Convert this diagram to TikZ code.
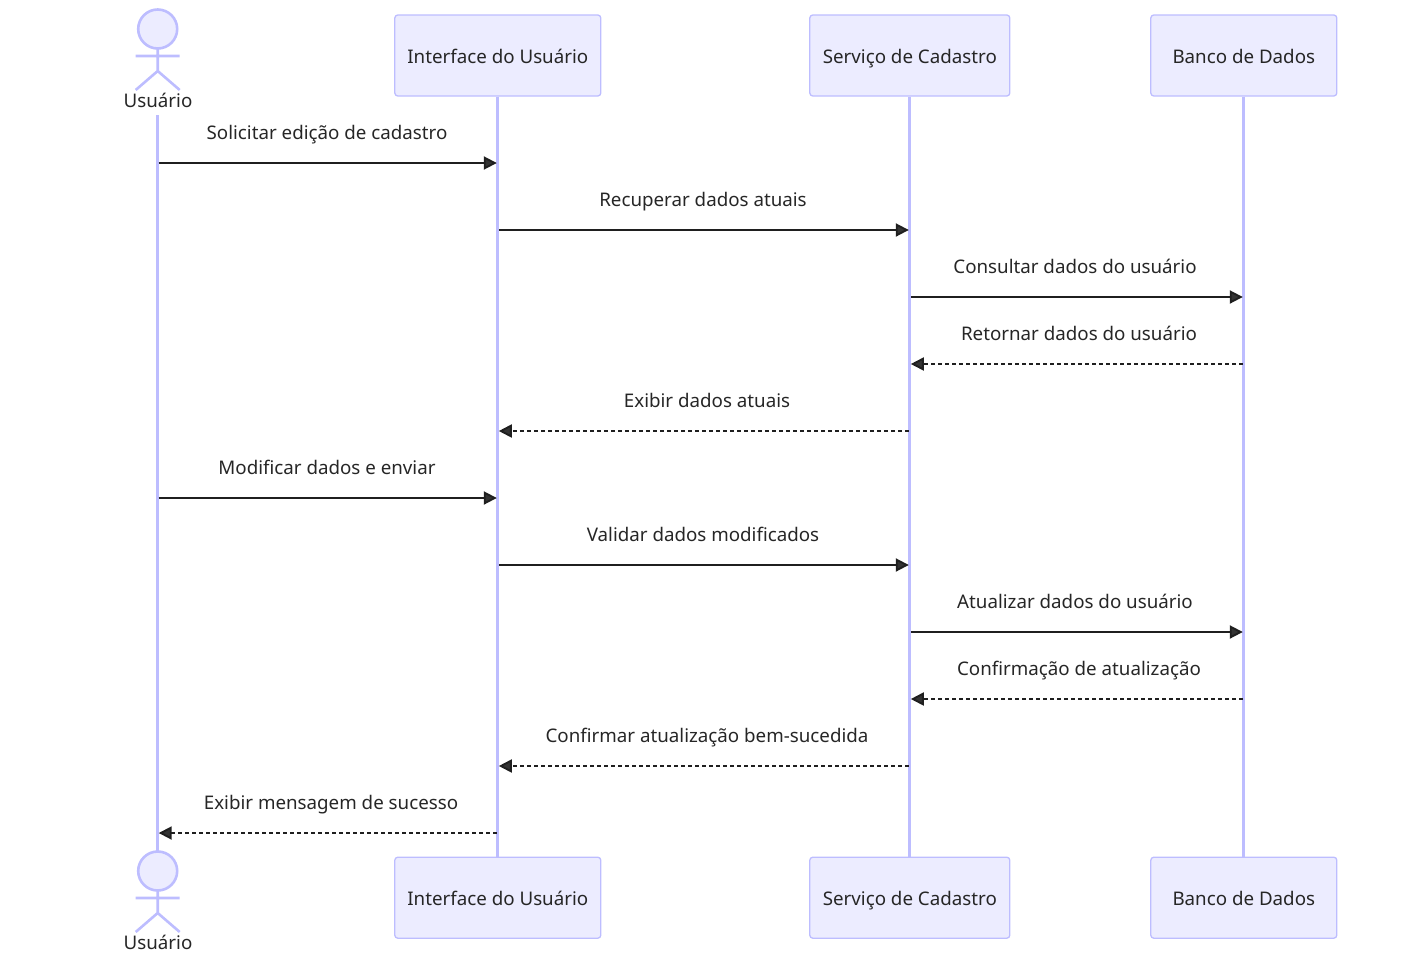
\documentclass[tikz,border=0pt]{standalone}
\usepackage{fontspec}
\setmainfont{Noto Sans}
\usetikzlibrary{arrows.meta}
\definecolor{actorline}{HTML}{BDBDFF}
\definecolor{actorfill}{HTML}{ECECFF}
\definecolor{msgcol}{HTML}{333333}
\tikzset{
  x=1pt,y=-1pt,
  actorbox/.style={draw=actorline,fill=actorfill,line width=1.3pt,rounded corners=3pt,minimum height=81pt,inner sep=0pt,text=black!85,font=\fontsize{18.75}{22}\selectfont,text height=16pt,text depth=0pt},
  stick/.style={draw=actorline,line width=2.6pt},
  lifeline/.style={draw=actorline,line width=3pt},
  msg/.style={draw=msgcol!60!black,line width=1.9pt,-{Triangle[length=13pt,width=13pt,fill=msgcol]},shorten <=1pt,shorten >=1pt},
  reply/.style={msg,dash pattern=on 4pt off 3pt},
  msglabel/.style={inner sep=0pt,anchor=base,text=black!85,font=\fontsize{18.75}{22}\selectfont},
  actorlabel/.style={inner sep=0pt,anchor=base,text=black!85,font=\fontsize{18.75}{22}\selectfont},
}
\newcommand{\stickman}[2]{%
  \draw[stick,fill=actorfill] (#1,#2) circle[radius=19.5];
  \draw[stick] (#1,#2+20) -- (#1,#2+42) (#1-22,#2+27) -- (#1+22,#2+27)
    (#1-22,#2+61) -- (#1,#2+42) -- (#1+22,#2+61);
}
\begin{document}
\begin{tikzpicture}
\useasboundingbox (0,0) rectangle (1402,953);
% lifeline anchors
\coordinate (usrTop) at (157.7,115);
\coordinate (usrBot) at (157.7,851);
\node[actorbox,minimum width=206pt] (uiTop) at (497.8,55.5) {Interface do Usuário};
\node[actorbox,minimum width=200pt] (svcTop) at (909.8,55.5) {Serviço de Cadastro};
\node[actorbox,minimum width=186pt] (dbTop) at (1243.8,55.5) {Banco de Dados};
\node[actorbox,minimum width=206pt] (uiBot) at (497.8,897.7) {Interface do Usuário};
\node[actorbox,minimum width=200pt] (svcBot) at (909.8,897.7) {Serviço de Cadastro};
\node[actorbox,minimum width=186pt] (dbBot) at (1243.8,897.7) {Banco de Dados};
\draw[lifeline] (usrTop) -- (usrBot);
\draw[lifeline] (uiTop) -- (uiBot);
\draw[lifeline] (svcTop) -- (svcBot);
\draw[lifeline] (dbTop) -- (dbBot);
\stickman{157.7}{29}
\stickman{157.7}{871}
\node[actorlabel] (usrLabelTop) at (158,107) {Usuário};
\node[actorlabel] (usrLabelBot) at (158,949) {Usuário};
% messages
\draw[msg] (usrTop |- 0,163) -- (uiTop |- 0,163);
\node[msglabel] (m1) at (327,139.3) {Solicitar edição de cadastro};
\draw[msg] (uiTop |- 0,230) -- (svcTop |- 0,230);
\node[msglabel] (m2) at (703,206.3) {Recuperar dados atuais};
\draw[msg] (svcTop |- 0,297) -- (dbTop |- 0,297);
\node[msglabel] (m3) at (1075,273.3) {Consultar dados do usuário};
\draw[reply] (dbTop |- 0,364) -- (svcTop |- 0,364);
\node[msglabel] (m4) at (1079,340.3) {Retornar dados do usuário};
\draw[reply] (svcTop |- 0,431) -- (uiTop |- 0,431);
\node[msglabel] (m5) at (707,407.3) {Exibir dados atuais};
\draw[msg] (usrTop |- 0,498) -- (uiTop |- 0,498);
\node[msglabel] (m6) at (327,474.3) {Modificar dados e enviar};
\draw[msg] (uiTop |- 0,565) -- (svcTop |- 0,565);
\node[msglabel] (m7) at (703,541.3) {Validar dados modificados};
\draw[msg] (svcTop |- 0,632) -- (dbTop |- 0,632);
\node[msglabel] (m8) at (1075,608.3) {Atualizar dados do usuário};
\draw[reply] (dbTop |- 0,699) -- (svcTop |- 0,699);
\node[msglabel] (m9) at (1079,675.3) {Confirmação de atualização};
\draw[reply] (svcTop |- 0,766) -- (uiTop |- 0,766);
\node[msglabel] (m10) at (707,742.3) {Confirmar atualização bem-sucedida};
\draw[reply] (uiTop |- 0,833) -- (usrTop |- 0,833);
\node[msglabel] (m11) at (331,809.3) {Exibir mensagem de sucesso};
\end{tikzpicture}
\end{document}
